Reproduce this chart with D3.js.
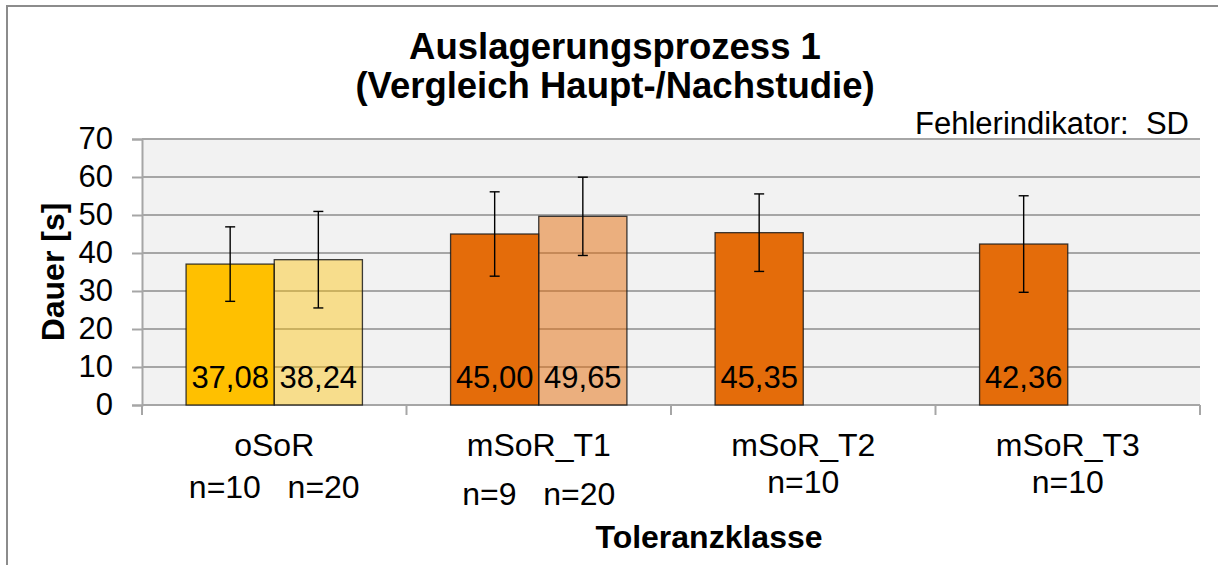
<!DOCTYPE html>
<html>
<head>
<meta charset="utf-8">
<script src="https://cdn.jsdelivr.net/npm/d3@7"></script>
<style>
  html, body { margin: 0; padding: 0; background: #fff; }
  svg { display: block; font-family: "Liberation Sans", Arial, sans-serif; }
  text { white-space: pre; }
</style>
</head>
<body>
<svg id="chart" width="1218" height="565"></svg>
<script>
// Toleranzklassen and per-study values (mean duration in s, standard deviation)
const categories = ["oSoR", "mSoR_T1", "mSoR_T2", "mSoR_T3"];
const hauptMeans = [37.08, 45.00, 45.35, 42.36];
const hauptSD    = [9.8, 11.1, 10.2, 12.7];
const nachMeans  = [38.24, 49.65, null, null];
const nachSD     = [12.7, 10.3, null, null];
const nLabels    = ["n=10   n=20", "n=9   n=20", "n=10", "n=10"];
const yTicks     = [0, 10, 20, 30, 40, 50, 60, 70];

const titleLines = ["Auslagerungsprozess 1", "(Vergleich Haupt-/Nachstudie)"];
const yTitle = "Dauer [s]";
const xTitle = "Toleranzklasse";
const note = "Fehlerindikator:  SD";

// Fill colours: first study per category, second study drawn translucent
const hauptColors = ["#FFC000", "#E46C0A", "#E46C0A", "#E46C0A"];

const svg = d3.select("#chart");
const plot = { left: 142, right: 1200, top: 139, bottom: 405 };

// chart frame
svg.append("rect")
  .attr("x", 7).attr("y", 6).attr("width", 1240).attr("height", 600)
  .attr("fill", "#fff").attr("stroke", "#8c8c8c").attr("stroke-width", 2);

const x = d3.scaleBand().domain(categories).range([plot.left, plot.right]).paddingInner(0).paddingOuter(0);
const sub = d3.scaleBand().domain(["haupt", "nach"]).range([0, x.bandwidth()]).paddingInner(0).paddingOuter(0.5);
const y = d3.scaleLinear().domain([0, 70]).range([plot.bottom, plot.top]);

// plot background
svg.append("rect")
  .attr("x", plot.left).attr("y", plot.top)
  .attr("width", plot.right - plot.left).attr("height", plot.bottom - plot.top)
  .attr("fill", "#F2F2F2");

// horizontal gridlines
svg.append("g").selectAll("line").data(yTicks).join("line")
  .attr("x1", plot.left).attr("x2", plot.right)
  .attr("y1", d => y(d)).attr("y2", d => y(d))
  .attr("stroke", "#a6a6a6").attr("stroke-width", 2);

// y axis
const yAxis = svg.append("g")
  .attr("transform", `translate(${plot.left},0)`)
  .call(d3.axisLeft(y).tickValues(yTicks).tickSize(10).tickPadding(19).tickFormat(d3.format("d")));
yAxis.select(".domain").attr("stroke", "#a6a6a6").attr("stroke-width", 2);
yAxis.selectAll(".tick line").attr("stroke", "#a6a6a6").attr("stroke-width", 2);
yAxis.selectAll(".tick text")
  .attr("font-size", 31).attr("fill", "#000")
  .attr("font-family", "Liberation Sans, Arial, sans-serif");

// category separators on the x axis
const bounds = categories.map(c => x(c)).concat([plot.right]);
svg.append("g").selectAll("line").data(bounds).join("line")
  .attr("x1", d => d).attr("x2", d => d)
  .attr("y1", plot.bottom).attr("y2", plot.bottom + 10)
  .attr("stroke", "#a6a6a6").attr("stroke-width", 2);

// bar records
const bars = [];
categories.forEach((c, i) => {
  bars.push({ cat: c, key: "haupt", mean: hauptMeans[i], sd: hauptSD[i], color: hauptColors[i], alpha: 1 });
  if (nachMeans[i] != null)
    bars.push({ cat: c, key: "nach", mean: nachMeans[i], sd: nachSD[i], color: hauptColors[i], alpha: i === 0 ? 0.42 : 0.5 });
});

const bx = d => x(d.cat) + sub(d.key);

svg.append("g").selectAll("rect").data(bars).join("rect")
  .attr("x", bx).attr("width", sub.bandwidth())
  .attr("y", d => y(d.mean)).attr("height", d => y(0) - y(d.mean))
  .attr("fill", d => d.color).attr("fill-opacity", d => d.alpha)
  .attr("stroke", "#1a1a1a").attr("stroke-opacity", 0.85).attr("stroke-width", 1.3);

// value labels inside bars
const fmt = v => d3.format(".2f")(v).replace(".", ",");
svg.append("g").selectAll("text").data(bars).join("text")
  .attr("x", d => bx(d) + sub.bandwidth() / 2)
  .attr("y", plot.bottom - 17)
  .attr("text-anchor", "middle")
  .attr("font-size", 31).attr("fill", "#000")
  .text(d => fmt(d.mean));

// error bars (± SD)
const eb = svg.append("g").attr("stroke", "#000").attr("stroke-width", 1.4);
bars.forEach(d => {
  const cx = bx(d) + sub.bandwidth() / 2;
  const y1 = y(d.mean + d.sd), y0 = y(d.mean - d.sd);
  eb.append("line").attr("x1", cx).attr("x2", cx).attr("y1", y1).attr("y2", y0);
  eb.append("line").attr("x1", cx - 5).attr("x2", cx + 5).attr("y1", y1).attr("y2", y1);
  eb.append("line").attr("x1", cx - 5).attr("x2", cx + 5).attr("y1", y0).attr("y2", y0);
});

// category labels with group sizes
const nLineY = { "oSoR": 498, "mSoR_T1": 505, "mSoR_T2": 493, "mSoR_T3": 493 };
const xl = svg.append("g").attr("font-size", 32).attr("fill", "#000").attr("text-anchor", "middle");
categories.forEach((c, i) => {
  const cx = x(c) + x.bandwidth() / 2;
  xl.append("text").attr("x", cx).attr("y", 456).text(c);
  xl.append("text").attr("x", cx).attr("y", nLineY[c]).text(nLabels[i]);
});

// titles
svg.append("g").selectAll("text").data(titleLines).join("text")
  .attr("x", 615).attr("y", (d, i) => 59 + i * 39)
  .attr("text-anchor", "middle").attr("font-weight", "bold").attr("font-size", 36.5)
  .text(d => d);

svg.append("text")
  .attr("x", 1189).attr("y", 134).attr("text-anchor", "end")
  .attr("font-size", 31).text(note);

svg.append("text")
  .attr("transform", "translate(64,272) rotate(-90)")
  .attr("text-anchor", "middle").attr("font-weight", "bold").attr("font-size", 32)
  .text(yTitle);

svg.append("text")
  .attr("x", 709).attr("y", 548)
  .attr("text-anchor", "middle").attr("font-weight", "bold").attr("font-size", 32)
  .text(xTitle);
</script>
</body>
</html>
